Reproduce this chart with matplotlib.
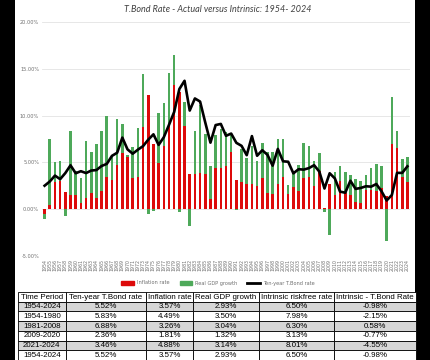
import matplotlib
matplotlib.use("Agg")
import matplotlib.pyplot as plt
from matplotlib.patches import Rectangle
from matplotlib.lines import Line2D
import numpy as np

years = list(range(1954, 2025))
inflation = [-0.5, 0.4, 2.9, 3.0, 1.8, 1.5, 1.5, 0.7, 1.2, 1.7,
             1.2, 1.9, 3.4, 3.1, 4.7, 6.0, 5.6, 3.3, 3.4, 8.8,
             12.2, 7.0, 4.9, 6.7, 9.0, 13.3, 12.5, 8.9, 3.8, 3.8,
             3.9, 3.8, 1.1, 4.4, 4.4, 4.6, 6.1, 3.1, 2.9, 2.7,
             2.7, 2.5, 3.3, 1.7, 1.6, 2.7, 3.4, 1.6, 2.4, 1.9,
             3.3, 3.4, 2.5, 4.1, 0.1, 2.7, 1.5, 3.0, 1.7, 1.5,
             0.8, 0.7, 2.1, 2.1, 1.9, 2.3, 1.4, 7.0, 6.5, 3.4, 2.9]
gdp_growth = [-0.6, 7.1, 2.1, 2.1, -0.7, 6.9, 2.6, 2.6, 6.1, 4.4,
              5.8, 6.5, 6.6, 2.7, 4.9, 3.1, 0.2, 3.3, 5.3, 5.6,
              -0.5, -0.2, 5.4, 4.6, 5.5, 3.2, -0.3, 2.5, -1.8, 4.6,
              7.2, 4.2, 3.5, 3.5, 4.2, 3.7, 1.9, -0.1, 3.5, 2.8,
              4.0, 2.7, 3.8, 4.4, 4.5, 4.8, 4.1, 1.0, 1.7, 2.8,
              3.8, 3.3, 2.7, 1.9, -0.3, -2.8, 2.5, 1.6, 2.3, 2.2,
              2.4, 2.3, 1.6, 2.3, 2.9, 2.3, -3.4, 5.0, 1.9, 2.0, 2.7]
tbond = [2.51, 2.96, 3.59, 3.21, 3.86, 4.69, 3.84, 4.06, 3.86, 4.13,
         4.18, 4.62, 4.84, 5.70, 6.03, 7.65, 6.39, 5.93, 6.36, 6.74,
         7.43, 8.00, 6.87, 7.69, 9.01, 10.39, 12.84, 13.72, 10.54, 11.83,
         11.50, 9.26, 7.11, 8.99, 9.11, 7.84, 8.08, 7.09, 6.77, 5.77,
         7.81, 5.71, 6.30, 5.81, 4.65, 6.44, 5.12, 5.07, 3.83, 4.27,
         4.23, 4.39, 4.70, 4.02, 2.21, 3.84, 3.29, 1.88, 1.76, 3.04,
         2.17, 2.27, 2.45, 2.41, 2.69, 1.92, 0.93, 1.52, 3.88, 3.88, 4.58]

yticks = [-5, 0, 5, 10, 15, 20]
series_names = ["Inflation rate", "Real GDP growth", "Ten-year T.Bond rate"]
title = "T.Bond Rate - Actual versus Intrinsic: 1954- 2024"

table_header = ["Time Period", "Ten-year T.Bond rate", "Inflation rate",
                "Real GDP growth", "Intrinsic riskfree rate", "Intrinsic - T.Bond Rate"]
table_rows = [
    ["1954-2024", "5.52%", "3.57%", "2.93%", "6.50%", "-0.98%"],
    ["1954-1980", "5.83%", "4.49%", "3.50%", "7.98%", "-2.15%"],
    ["1981-2008", "6.88%", "3.26%", "3.04%", "6.30%", "0.58%"],
    ["2009-2020", "2.36%", "1.81%", "1.32%", "3.13%", "-0.77%"],
    ["2021-2024", "3.46%", "4.88%", "3.14%", "8.01%", "-4.55%"],
    ["1954-2024", "5.52%", "3.57%", "2.93%", "6.50%", "-0.98%"],
]

W, H = 431, 360
fig = plt.figure(figsize=(W / 100, H / 100), dpi=100)
fig.patch.set_facecolor("black")
fig.add_artist(Rectangle((15 / W, 0), 400 / W, 1, transform=fig.transFigure,
                         facecolor="white", edgecolor="none", zorder=0))

RED = "#DD0A0A"
GREEN = "#4EA95A"

ax = fig.add_axes([42 / W, (H - 256) / H, 368 / W, 234 / H])
ax.set_facecolor("none")
x = np.arange(len(years))
inf = np.array(inflation)
gdp = np.array(gdp_growth)
inf_pos = np.where(inf > 0, inf, 0)
inf_neg = np.where(inf < 0, inf, 0)
gdp_bottom = np.where(gdp >= 0, inf_pos, inf_neg)
bw = 0.5
ax.bar(x, inf, width=bw, color=RED, zorder=2)
ax.bar(x, gdp, width=bw, bottom=gdp_bottom, color=GREEN, zorder=2)
ax.plot(x, tbond, color="black", lw=1.9, zorder=3, solid_joinstyle="round")

ax.set_xlim(-0.5, len(years) - 0.5)
ax.set_ylim(-5, 20)
ax.set_yticks(yticks)
ax.set_yticklabels([f"{v:.2f}%" for v in yticks], fontsize=3.6, color="#707070")
ax.yaxis.grid(True, color="#e3e3e3", lw=0.6, zorder=0)
ax.set_xticks(x)
ax.set_xticklabels([str(y) for y in years], rotation=90, fontsize=3.4, color="#707070")
ax.tick_params(axis="both", length=0, pad=2)
for s in ax.spines.values():
    s.set_visible(False)

fig.text(218 / W, 1 - 10 / H, title, ha="center", va="center", fontsize=6.5,
         style="italic", color="#404040", family="Lato")

handles = [Rectangle((0, 0), 1, 1, color=RED), Rectangle((0, 0), 1, 1, color=GREEN),
           Line2D([0], [0], color="black", lw=2)]
fig.legend(handles, series_names, loc="center", bbox_to_anchor=(218 / W, 1 - 283 / H),
           ncol=3, frameon=False, fontsize=3.6, handlelength=2.5, handleheight=0.8,
           columnspacing=2.0, handletextpad=0.6, labelcolor="#707070")

# table
col_edges = [18, 65.7, 145.7, 193.3, 258.7, 334.3, 416]
top = 292.0
rh = 9.7
tax = fig.add_axes([0, 0, 1, 1])
tax.set_xlim(0, W)
tax.set_ylim(H, 0)
tax.axis("off")
tax.patch.set_alpha(0)
all_rows = [table_header] + table_rows
for r, row in enumerate(all_rows):
    y0 = top + r * rh
    fc = "#d6d6d6" if r in (1, 3, 5) else "white"
    for c, txt in enumerate(row):
        xa, xb = col_edges[c], col_edges[c + 1]
        tax.add_patch(Rectangle((xa, y0), xb - xa, rh, facecolor=fc,
                                edgecolor="black", lw=0.6))
        tax.text((xa + xb) / 2, y0 + rh / 2 + 0.3, txt, ha="center", va="center",
                 fontsize=5.7, family="Liberation Sans", color="black")

fig.savefig("out.png", dpi=100, facecolor=fig.get_facecolor())
